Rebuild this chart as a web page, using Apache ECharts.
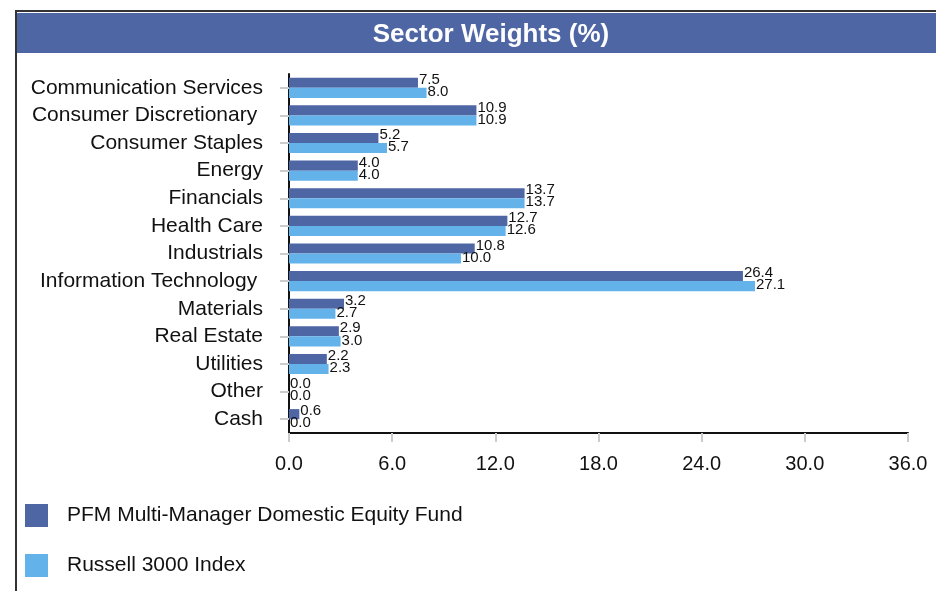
<!DOCTYPE html>
<html>
<head>
<meta charset="utf-8">
<script src="https://cdn.jsdelivr.net/npm/echarts@6/dist/echarts.min.js"></script>
<style>
  html, body { margin: 0; padding: 0; background: #fff; }
  #chart { width: 936px; height: 591px; }
</style>
</head>
<body>
<div id="chart"></div>
<script>
// sector names, top to bottom
var categories = [
  "Communication Services", "Consumer Discretionary ", "Consumer Staples",
  "Energy", "Financials", "Health Care", "Industrials",
  "Information Technology ", "Materials", "Real Estate", "Utilities",
  "Other", "Cash"
];
var fundValues = [7.5, 10.9, 5.2, 4.0, 13.7, 12.7, 10.8, 26.4, 3.2, 2.9, 2.2, 0.0, 0.6];
var indexValues = [8.0, 10.9, 5.7, 4.0, 13.7, 12.6, 10.0, 27.1, 2.7, 3.0, 2.3, 0.0, 0.0];
var seriesNames = ["PFM Multi-Manager Domestic Equity Fund", "Russell 3000 Index"];

var FONT = "Liberation Sans";

var myChart = echarts.init(document.getElementById("chart"));
myChart.setOption({
  animation: false,
  textStyle: { fontFamily: FONT },
  color: ["#4f66a5", "#64b2ea"],
  graphic: [
    // outer frame (left + top edges)
    { type: "rect", shape: { x: 15, y: 10, width: 2, height: 600 }, style: { fill: "#333" } },
    { type: "rect", shape: { x: 15, y: 10, width: 930, height: 2 }, style: { fill: "#333" } },
    // title band
    { type: "rect", z: -1, shape: { x: 17, y: 13, width: 930, height: 40 }, style: { fill: "#4f66a5" } }
  ],
  title: {
    text: "Sector Weights (%)",
    left: 486,
    top: 17,
    textAlign: "center",
    textStyle: { color: "#fff", fontSize: 26, fontWeight: "bold", fontFamily: FONT }
  },
  legend: {
    orient: "vertical",
    left: 20,
    top: 499,
    itemWidth: 23,
    itemHeight: 23,
    itemGap: 27,
    icon: "rect",
    data: seriesNames,
    textStyle: { fontSize: 21, color: "#111", padding: [0, 0, 0, 14], fontFamily: FONT }
  },
  grid: { left: 289, right: 28, top: 74, bottom: 158 },
  xAxis: {
    type: "value",
    min: 0,
    max: 36,
    interval: 6,
    axisLine: { show: true, lineStyle: { color: "#111", width: 2 } },
    axisTick: { show: true, length: 9, lineStyle: { color: "#ccc", width: 2 } },
    splitLine: { show: false },
    axisLabel: {
      fontSize: 20,
      color: "#111",
      margin: 21,
      fontFamily: FONT,
      formatter: function (v) { return v.toFixed(1); }
    }
  },
  yAxis: {
    type: "category",
    inverse: true,
    data: categories,
    axisLine: { show: true, lineStyle: { color: "#111", width: 2 } },
    axisTick: { show: true, length: 9, alignWithLabel: true, lineStyle: { color: "#ccc", width: 2 } },
    axisLabel: { fontSize: 21, color: "#111", margin: 26, fontFamily: FONT }
  },
  series: [
    {
      name: seriesNames[0],
      type: "bar",
      data: fundValues,
      barGap: "0%",
      barCategoryGap: "27%",
      label: {
        show: true,
        position: "right",
        distance: 1,
        offset: [0, -3],
        fontSize: 15,
        color: "#111",
        fontFamily: FONT,
        formatter: function (p) { return p.value.toFixed(1); }
      }
    },
    {
      name: seriesNames[1],
      type: "bar",
      data: indexValues,
      barGap: "0%",
      barCategoryGap: "27%",
      label: {
        show: true,
        position: "right",
        distance: 1,
        offset: [0, -1],
        fontSize: 15,
        color: "#111",
        fontFamily: FONT,
        formatter: function (p) { return p.value.toFixed(1); }
      }
    }
  ]
});
</script>
</body>
</html>
